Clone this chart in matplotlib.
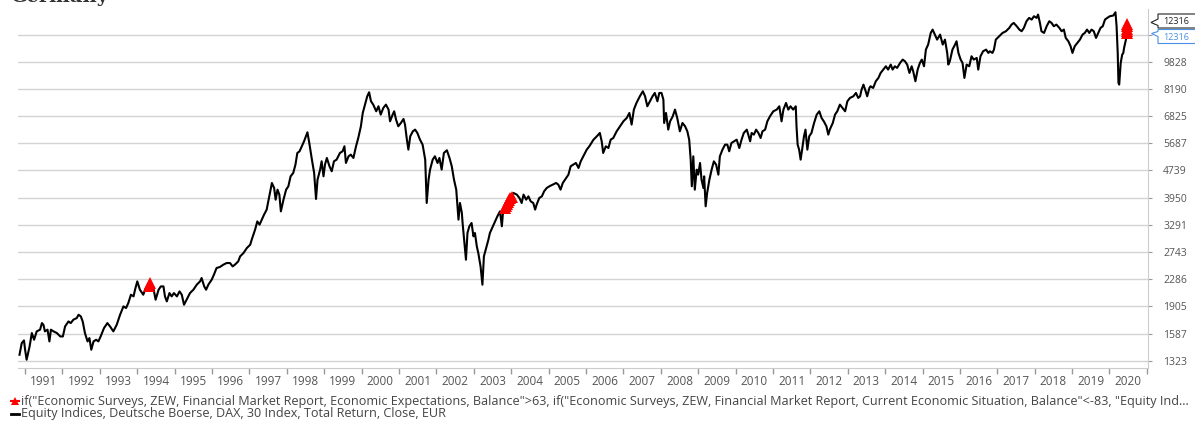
import matplotlib
matplotlib.use("Agg")
import matplotlib.pyplot as plt
from matplotlib.lines import Line2D
from matplotlib.patches import Polygon
from matplotlib.ticker import NullLocator

title = "Germany"

# DAX total return, (decimal year, index level)
dax = [
    (1990.85, 1377), (1990.91, 1489), (1990.97, 1516), (1991.00, 1424), (1991.04, 1332),
    (1991.12, 1456), (1991.18, 1593), (1991.24, 1523), (1991.31, 1611), (1991.40, 1629),
    (1991.45, 1703), (1991.49, 1684), (1991.53, 1611), (1991.60, 1629), (1991.65, 1506),
    (1991.69, 1629), (1991.76, 1611), (1991.85, 1593), (1991.94, 1557), (1992.01, 1557),
    (1992.07, 1666), (1992.16, 1722), (1992.22, 1703), (1992.29, 1742), (1992.38, 1761),
    (1992.43, 1801), (1992.49, 1781), (1992.54, 1722), (1992.60, 1593), (1992.67, 1506),
    (1992.72, 1540), (1992.77, 1424), (1992.83, 1506), (1992.90, 1523), (1992.96, 1506),
    (1993.02, 1557), (1993.11, 1647), (1993.20, 1703), (1993.27, 1666), (1993.36, 1611),
    (1993.45, 1684), (1993.54, 1801), (1993.63, 1905), (1993.70, 1884), (1993.76, 1948),
    (1993.83, 2060), (1993.90, 2037), (1993.94, 2130), (1994.00, 2253), (1994.07, 2130),
    (1994.16, 2060), (1994.21, 2130), (1994.27, 2178), (1994.34, 2203), (1994.43, 2154),
    (1994.49, 1992), (1994.57, 2130), (1994.63, 2178), (1994.70, 2178), (1994.74, 2037),
    (1994.79, 1970), (1994.86, 2083), (1994.92, 2037), (1994.98, 2083), (1995.06, 2037),
    (1995.13, 2106), (1995.19, 2060), (1995.25, 1926), (1995.32, 1992), (1995.41, 2083),
    (1995.50, 2130), (1995.59, 2203), (1995.68, 2253), (1995.72, 2304), (1995.79, 2178),
    (1995.84, 2130), (1995.90, 2203), (1995.99, 2278), (1996.05, 2356), (1996.12, 2464),
    (1996.21, 2481), (1996.30, 2519), (1996.39, 2548), (1996.48, 2548), (1996.55, 2491),
    (1996.61, 2519), (1996.70, 2576), (1996.75, 2664), (1996.84, 2724), (1996.93, 2817),
    (1997.02, 2881), (1997.06, 2979), (1997.15, 3186), (1997.21, 3369), (1997.27, 3295),
    (1997.33, 3407), (1997.39, 3524), (1997.46, 3644), (1997.53, 3985), (1997.60, 4358),
    (1997.66, 4214), (1997.70, 3897), (1997.75, 4167), (1997.80, 4030), (1997.84, 3603),
    (1997.91, 3897), (1997.98, 4167), (1998.04, 4261), (1998.10, 4557), (1998.17, 4660),
    (1998.23, 4928), (1998.28, 5329), (1998.34, 5391), (1998.40, 5575), (1998.46, 5764),
    (1998.55, 6123), (1998.60, 5700), (1998.67, 5097), (1998.73, 4661), (1998.78, 3915),
    (1998.82, 4457), (1998.89, 4767), (1998.93, 5041), (1998.98, 4558), (1999.02, 4930),
    (1999.07, 5155), (1999.14, 4875), (1999.20, 4714), (1999.26, 5041), (1999.33, 5097),
    (1999.42, 5331), (1999.49, 5391), (1999.54, 5575), (1999.58, 4985), (1999.65, 5213),
    (1999.71, 5271), (1999.78, 5155), (1999.85, 5575), (1999.91, 5895), (1999.98, 6375),
    (2000.03, 6972), (2000.09, 7373), (2000.15, 7797), (2000.20, 8008), (2000.25, 7540),
    (2000.31, 7373), (2000.39, 7050), (2000.45, 7291), (2000.51, 6894), (2000.58, 7210),
    (2000.65, 7373), (2000.72, 7130), (2000.76, 6592), (2000.83, 6894), (2000.87, 7050),
    (2000.92, 6667), (2000.98, 6375), (2001.05, 6519), (2001.12, 6696), (2001.16, 6447),
    (2001.21, 5829), (2001.25, 5451), (2001.30, 5961), (2001.37, 6165), (2001.43, 6234),
    (2001.49, 6096), (2001.56, 5829), (2001.63, 5638), (2001.70, 5097), (2001.74, 3811),
    (2001.79, 4457), (2001.83, 4767), (2001.90, 5097), (2001.96, 5213), (2002.03, 4985),
    (2002.08, 5155), (2002.14, 4767), (2002.20, 5331), (2002.28, 5427), (2002.35, 5155),
    (2002.41, 4875), (2002.47, 4457), (2002.53, 4168), (2002.59, 3408), (2002.63, 3811),
    (2002.68, 3564), (2002.70, 3332), (2002.74, 2980), (2002.79, 2605), (2002.83, 3116),
    (2002.88, 3259), (2002.94, 3332), (2002.99, 3047), (2003.03, 3116), (2003.08, 2849),
    (2003.12, 2725), (2003.18, 2492), (2003.23, 2203), (2003.27, 2665), (2003.33, 2818),
    (2003.39, 2980), (2003.43, 3116), (2003.51, 3259), (2003.57, 3370), (2003.63, 3485),
    (2003.70, 3604), (2003.75, 3259), (2003.79, 3686), (2003.88, 3811), (2003.97, 3941),
    (2004.06, 4076), (2004.15, 4031), (2004.22, 3941), (2004.28, 3811), (2004.33, 4031),
    (2004.40, 3897), (2004.46, 3985), (2004.52, 3854), (2004.59, 3811), (2004.64, 3645),
    (2004.68, 3769), (2004.75, 3941), (2004.82, 3985), (2004.88, 4121), (2004.95, 4215),
    (2005.02, 4262), (2005.11, 4310), (2005.20, 4359), (2005.26, 4310), (2005.32, 4168),
    (2005.38, 4359), (2005.44, 4457), (2005.53, 4609), (2005.59, 4875), (2005.66, 4930),
    (2005.73, 4985), (2005.80, 4820), (2005.86, 5041), (2005.93, 5213), (2006.02, 5451),
    (2006.09, 5575), (2006.20, 5828), (2006.29, 5961), (2006.37, 6096), (2006.42, 5764),
    (2006.46, 5330), (2006.53, 5574), (2006.60, 5511), (2006.66, 5828), (2006.73, 5894),
    (2006.82, 6164), (2006.91, 6375), (2007.00, 6591), (2007.09, 6741), (2007.16, 6971),
    (2007.22, 6447), (2007.28, 7129), (2007.35, 7455), (2007.44, 7796), (2007.52, 8062),
    (2007.58, 7796), (2007.64, 7290), (2007.71, 7538), (2007.78, 7796), (2007.84, 7972),
    (2007.91, 7538), (2007.96, 7972), (2008.02, 7972), (2008.07, 7623), (2008.09, 6518),
    (2008.14, 6971), (2008.20, 6233), (2008.25, 6591), (2008.32, 6816), (2008.38, 7129),
    (2008.44, 6741), (2008.51, 6164), (2008.58, 6518), (2008.65, 6375), (2008.71, 6164),
    (2008.76, 5828), (2008.80, 5097), (2008.83, 4262), (2008.87, 5212), (2008.91, 4167),
    (2008.96, 4766), (2009.00, 4609), (2009.05, 4984), (2009.09, 4457), (2009.14, 4214),
    (2009.16, 4557), (2009.20, 3727), (2009.24, 4076), (2009.30, 4457), (2009.36, 4766),
    (2009.42, 5040), (2009.48, 4928), (2009.54, 4609), (2009.58, 5212), (2009.65, 5451),
    (2009.72, 5637), (2009.78, 5637), (2009.83, 5390), (2009.89, 5700), (2009.96, 5764),
    (2010.03, 5828), (2010.10, 5511), (2010.16, 5828), (2010.22, 6096), (2010.30, 6233),
    (2010.34, 6028), (2010.39, 5764), (2010.43, 6096), (2010.49, 6028), (2010.55, 6233),
    (2010.61, 6096), (2010.67, 5894), (2010.72, 6164), (2010.79, 6233), (2010.85, 6591),
    (2010.92, 6816), (2011.01, 7050), (2011.10, 7129), (2011.17, 7290), (2011.23, 6591),
    (2011.28, 7129), (2011.35, 7455), (2011.41, 7129), (2011.47, 7290), (2011.54, 7129),
    (2011.61, 7290), (2011.63, 6375), (2011.66, 5637), (2011.70, 5451), (2011.74, 5097),
    (2011.78, 5451), (2011.83, 5961), (2011.87, 6233), (2011.92, 5451), (2011.97, 5961),
    (2012.03, 6096), (2012.10, 6518), (2012.17, 6893), (2012.24, 7050), (2012.30, 6741),
    (2012.36, 6591), (2012.43, 6375), (2012.48, 6028), (2012.52, 6233), (2012.60, 6518),
    (2012.66, 6893), (2012.72, 7050), (2012.79, 7372), (2012.86, 7208), (2012.93, 7050),
    (2012.99, 7538), (2013.06, 7710), (2013.15, 7796), (2013.22, 7972), (2013.28, 7710),
    (2013.33, 7796), (2013.37, 8152), (2013.42, 8431), (2013.48, 8062), (2013.52, 7796),
    (2013.58, 8244), (2013.61, 8338), (2013.68, 8244), (2013.75, 8621), (2013.82, 8817),
    (2013.88, 9118), (2013.95, 9324), (2014.02, 9535), (2014.08, 9324), (2014.15, 9643),
    (2014.20, 9324), (2014.26, 9535), (2014.32, 9430), (2014.40, 9750), (2014.47, 9971),
    (2014.53, 9859), (2014.59, 9643), (2014.65, 9118), (2014.71, 9535), (2014.75, 9221),
    (2014.81, 8621), (2014.87, 9324), (2014.93, 9750), (2014.98, 9971), (2015.04, 9535),
    (2015.09, 10663), (2015.15, 11027), (2015.22, 11924), (2015.27, 12194), (2015.33, 11792),
    (2015.39, 11402), (2015.47, 11792), (2015.54, 11027), (2015.60, 11402), (2015.66, 10427),
    (2015.69, 9643), (2015.73, 9859), (2015.80, 10663), (2015.87, 11027), (2015.91, 11276),
    (2015.96, 10427), (2016.02, 9971), (2016.07, 9750), (2016.12, 8817), (2016.18, 9643),
    (2016.25, 9535), (2016.31, 10196), (2016.37, 9971), (2016.45, 10083), (2016.49, 9324),
    (2016.55, 10196), (2016.62, 10545), (2016.70, 10663), (2016.76, 10427), (2016.80, 10545),
    (2016.87, 10427), (2016.91, 10663), (2016.96, 11402), (2017.05, 11661), (2017.14, 11924),
    (2017.23, 12059), (2017.32, 12332), (2017.38, 12611), (2017.44, 12752), (2017.52, 12470),
    (2017.59, 12194), (2017.65, 12059), (2017.71, 12332), (2017.78, 12897), (2017.85, 13188),
    (2017.92, 13041), (2017.98, 13337), (2018.05, 13188), (2018.09, 13486), (2018.14, 12752),
    (2018.18, 12059), (2018.25, 11924), (2018.32, 12470), (2018.39, 12897), (2018.45, 12752),
    (2018.51, 12470), (2018.58, 12611), (2018.66, 12332), (2018.72, 12059), (2018.78, 12194),
    (2018.83, 11532), (2018.90, 11276), (2018.96, 10904), (2019.01, 10427), (2019.07, 10904),
    (2019.14, 11150), (2019.21, 11402), (2019.28, 11792), (2019.34, 11924), (2019.40, 12194),
    (2019.46, 11924), (2019.52, 12194), (2019.58, 12059), (2019.64, 11532), (2019.70, 11924),
    (2019.76, 12332), (2019.82, 12470), (2019.88, 13041), (2019.94, 13188), (2020.01, 13337),
    (2020.10, 13397), (2020.16, 13698), (2020.19, 12470), (2020.22, 10427), (2020.24, 8526),
    (2020.26, 8432), (2020.28, 9118), (2020.30, 9750), (2020.34, 10311), (2020.37, 10427),
    (2020.39, 10782), (2020.42, 11150), (2020.44, 11402), (2020.46, 11900), (2020.47, 12470),
    (2020.48, 12316),
]

# signal series: DAX level on dates where the ZEW condition is met
signal = [
    (1994.31, 2181), (1994.33, 2225),
    (2003.83, 3690), (2003.86, 3740), (2003.89, 3790), (2003.92, 3840),
    (2003.95, 3890), (2003.98, 3940), (2004.01, 3980),
    (2020.47, 11900), (2020.47, 12090), (2020.47, 12280), (2020.47, 12470), (2020.47, 12670),
]

ytick_values = [1323, 1587, 1905, 2286, 2743, 3291, 3950, 4739, 5687, 6825, 8190, 9828, 11794]
years = list(range(1991, 2021))
last_black = "12316"
last_blue = "12316"
legend_labels = [
    'if("Economic Surveys, ZEW, Financial Market Report, Economic Expectations, Balance">63, '
    'if("Economic Surveys, ZEW, Financial Market Report, Current Economic Situation, Balance"<-83, "Equity Ind...',
    "Equity Indices, Deutsche Boerse, DAX, 30 Index, Total Return, Close, EUR",
]

W, H = 1195, 422
plt.rcParams['font.family'] = ['Open Sans', 'DejaVu Sans']


def fxy(x, y):
    # pixel (from top-left) -> figure fraction
    return (x / W, 1 - y / H)


fig = plt.figure(figsize=(W / 100, H / 100), dpi=100)
ax = fig.add_axes([18 / W, 1 - 368 / H, 1130 / W, 359 / H])

dx, dy = zip(*dax)
ax.plot(dx, dy, color='black', lw=1.5, zorder=3)
sx, sy = zip(*signal)
ax.plot(sx, sy, ls='none', marker='^', color='red', ms=8.5, mew=0, zorder=4)

ax.set_yscale('log')
ax.set_ylim(1260, 14000)
ax.set_xlim(1990.81, 2021.03)

ax.yaxis.tick_right()
ax.set_yticks(ytick_values)
# top gridline label sits under the last-value boxes
ax.set_yticklabels([str(v) for v in ytick_values[:-1]] + [''])
ax.yaxis.set_minor_locator(NullLocator())
ax.grid(axis='y', color='#d3d3d3', lw=1.0, zorder=0)

ax.set_xticks(years + [2021])
ax.set_xticklabels([''] * (len(years) + 1))
ax.set_xticks([yr + 0.5 for yr in years], minor=True)
ax.set_xticklabels([str(yr) for yr in years], minor=True)
ax.tick_params(axis='x', which='major', length=4, color='#999999', width=1)
ax.tick_params(axis='x', which='minor', length=0, labelsize=8.5, labelcolor='#555555', pad=5)
ax.tick_params(axis='y', which='major', length=3, color='#999999', labelsize=7.5,
               labelcolor='#555555', pad=8)

for s in ['top', 'left']:
    ax.spines[s].set_visible(False)
ax.spines['bottom'].set_color('#cccccc')
ax.spines['right'].set_color('#cccccc')

# last value boxes on the right
black_box = [(1158, 14), (1200, 14), (1200, 28), (1158, 28), (1158, 25.5), (1151, 22.5), (1158, 19)]
fig.add_artist(Polygon([fxy(*p) for p in black_box], closed=True, transform=fig.transFigure,
                       facecolor='white', edgecolor='#222222', lw=0.8, zorder=5))
fig.text(*fxy(1163, 21), last_black, fontsize=6.5, color='#222222', va='center', zorder=6)
blue_box = [(1158, 29.5), (1200, 29.5), (1200, 43.5), (1158, 43.5), (1158, 36.5), (1151.5, 33.5), (1158, 31.5)]
fig.add_artist(Polygon([fxy(*p) for p in blue_box], closed=True, transform=fig.transFigure,
                       facecolor='white', edgecolor='#4a90e2', lw=0.8, zorder=5))
fig.text(*fxy(1163, 37), last_blue, fontsize=6.5, color='#4a90e2', va='center', zorder=6)

# title, cut off at the top as in the source
fig.text(*fxy(10, 2), title, fontsize=14, fontweight='bold', color='#333333',
         va='baseline', family='DejaVu Serif')

# legend
fig.add_artist(Line2D([11 / W, 19 / W], [1 - 401 / H] * 2, color='red', lw=1.5,
                      transform=fig.transFigure))
fig.add_artist(Line2D([15 / W], [1 - 401 / H], color='red', marker='^', ms=6, mew=0,
                      transform=fig.transFigure))
fig.text(*fxy(21, 401), legend_labels[0], fontsize=9.1, color='#444444', va='center')
fig.add_artist(Line2D([11 / W, 19 / W], [1 - 414 / H] * 2, color='black', lw=2,
                      transform=fig.transFigure))
fig.text(*fxy(21, 414), legend_labels[1], fontsize=9.1, color='#444444', va='center')

fig.savefig('out.png', dpi=100)
